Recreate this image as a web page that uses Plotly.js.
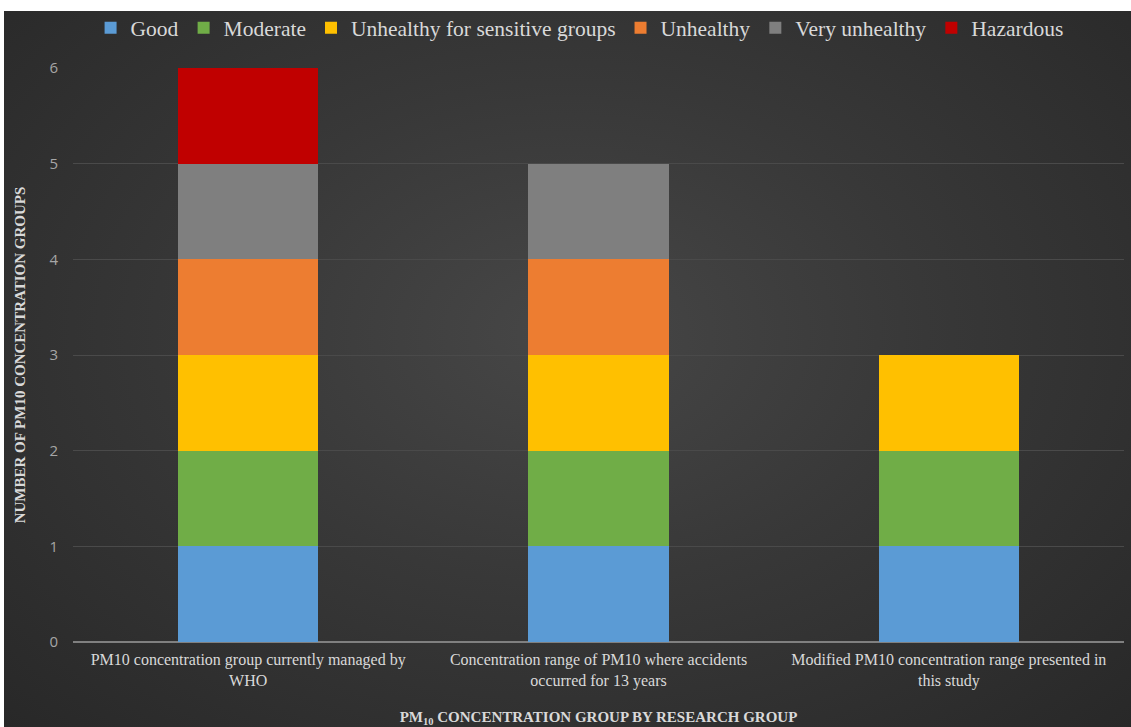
<!DOCTYPE html>
<html>
<head>
<meta charset="utf-8">
<script src="https://cdn.plot.ly/plotly-3.0.1.min.js"></script>
<style>
  html, body { margin: 0; padding: 0; background: #ffffff; }
  #bg { position: absolute; left: 4px; top: 11px; width: 1127px; height: 716px;
        background: radial-gradient(ellipse at 50% 45%, #474747 0%, #383838 45%, #282828 100%); }
  #chart { position: absolute; left: 0; top: 0; width: 1131px; height: 727px; }
</style>
</head>
<body>
<div id="bg"></div>
<div id="chart"></div>
<script>
const categories = [
  "PM10 concentration group currently managed by<br>WHO",
  "Concentration range of PM10 where accidents<br>occurred for 13 years",
  "Modified PM10 concentration range presented in<br>this study"
];
const seriesNames = ["Good", "Moderate", "Unhealthy for sensitive groups", "Unhealthy", "Very unhealthy", "Hazardous"];
const good          = [1, 1, 1];
const moderate      = [1, 1, 1];
const usg           = [1, 1, 1];
const unhealthy     = [1, 1, 0];
const veryUnhealthy = [1, 1, 0];
const hazardous     = [1, 0, 0];
const seriesValues = [good, moderate, usg, unhealthy, veryUnhealthy, hazardous];
const colors = ["#5B9BD5", "#70AD47", "#FFC000", "#ED7D31", "#7F7F7F", "#C00000"];

const traces = seriesNames.map((name, i) => ({
  type: "bar",
  name: name,
  x: categories,
  y: seriesValues[i],
  marker: { color: colors[i], line: { width: 0 } },
  hoverinfo: "x+y+name"
}));

const layout = {
  width: 1131,
  height: 727,
  barmode: "stack",
  bargap: 0.6,
  paper_bgcolor: "rgba(0,0,0,0)",
  plot_bgcolor: "rgba(0,0,0,0)",
  margin: { l: 73, r: 7, t: 68, b: 85 },
  showlegend: true,
  legend: {
    orientation: "h",
    x: 0.482, xanchor: "center",
    y: 1.07, yanchor: "middle",
    font: { family: "Liberation Serif, serif", size: 21.5, color: "#d9d9d9" },
    bgcolor: "rgba(0,0,0,0)",
    itemwidth: 30,
    traceorder: "normal"
  },
  xaxis: {
    type: "category",
    tickfont: { family: "Liberation Serif, serif", size: 16, color: "#d9d9d9" },
    ticklabelstandoff: 6,
    showgrid: false,
    showline: false,
    zeroline: false,
    ticks: "",
    title: {
      text: "PM<sub>10</sub> CONCENTRATION GROUP BY RESEARCH GROUP",
      font: { family: "Liberation Serif, serif", size: 15, color: "#d9d9d9", weight: "bold" },
      standoff: 24
    }
  },
  yaxis: {
    range: [0, 6],
    dtick: 1,
    tickfont: { family: "Open Sans, sans-serif", size: 15, color: "#a6a6a6" },
    ticklabelstandoff: 14,
    showgrid: true,
    gridcolor: "#4a4a4a",
    gridwidth: 1,
    zeroline: true,
    zerolinecolor: "#808080",
    zerolinewidth: 1.5,
    ticks: "",
    ticklen: 0,
    title: {
      text: "NUMBER OF PM10 CONCENTRATION GROUPS",
      font: { family: "Liberation Serif, serif", size: 15, color: "#d9d9d9", weight: "bold" },
      standoff: 20
    }
  }
};

Plotly.newPlot("chart", traces, layout, { displayModeBar: false, staticPlot: true });
</script>
</body>
</html>
